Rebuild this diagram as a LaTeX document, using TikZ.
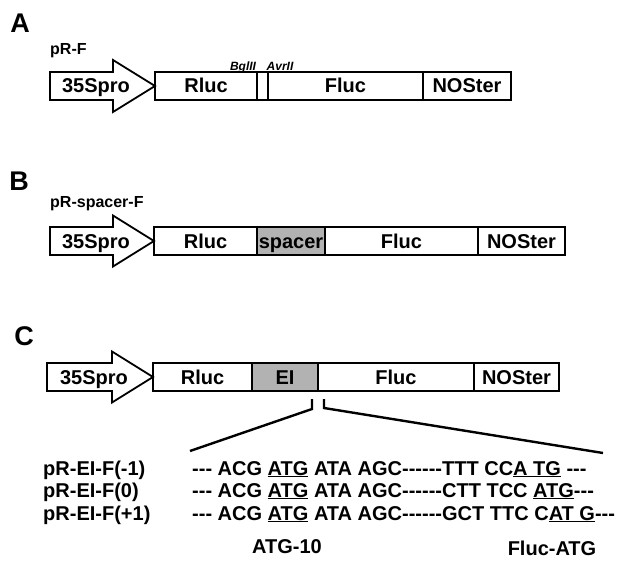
\documentclass[tikz,border=0pt]{standalone}
\usepackage{fontspec}
\setmainfont{Liberation Sans}
\newcommand\dsh{\mbox{-}}
\begin{document}
\begin{tikzpicture}[x=1pt,y=-1pt,
  seg/.style={draw, line width=1.8pt, minimum height=28pt, inner sep=0pt,
    text height=14pt, text depth=0pt,
    font=\fontsize{20}{20}\selectfont\bfseries},
  shade/.style={seg, fill=black!30},
  pro/.style={draw, line width=1.8pt, fill=white},
  protext/.style={font=\fontsize{20}{20}\selectfont\bfseries, inner sep=0pt,
    text height=14pt, text depth=0pt},
  panel/.style={font=\fontsize{27}{27}\selectfont\bfseries, inner sep=0pt,
    text height=19pt, text depth=0pt},
  title/.style={font=\fontsize{16}{16}\selectfont\bfseries, inner sep=0pt, anchor=west,
    text height=11.5pt, text depth=0pt},
  site/.style={font=\fontsize{12}{12}\selectfont\bfseries\itshape, inner sep=0pt,
    text height=8.6pt, text depth=0pt},
  rowlab/.style={font=\fontsize{20}{20}\selectfont\bfseries, inner sep=0pt, anchor=west,
    text height=14pt, text depth=0pt},
  seq/.style={font=\fontsize{20}{20}\selectfont\bfseries, inner sep=0pt, anchor=west,
    text height=14pt, text depth=0pt},
  bracket/.style={line width=2.4pt}]
\useasboundingbox (0,0) rectangle (618,564);
% ---------- A ----------
\node[panel] (lA) at (20,23) {A};
\node[title] (tA) at (50,49) {pR-F};
\draw[pro] (50,72) -- (113,72) -- (113,60) -- (155,86) -- (113,112) -- (113,100) -- (50,100) -- cycle;
\node[protext] (aPro) at (96,86) {35Spro};
\node[seg, minimum width=102pt] (aRluc) at (206,86) {Rluc};
\node[seg, minimum width=11pt] (aLink) at (262.5,86) {};
\node[seg, minimum width=155pt] (aFluc) at (345.5,86) {Fluc};
\node[seg, minimum width=88pt] (aNos) at (467,86) {NOSter};
\node[site] (bgl) at (243,66) {BglII};
\node[site] (avr) at (280,66) {AvrII};
% ---------- B ----------
\node[panel] (lB) at (19,181) {B};
\node[title] (tB) at (50,202) {pR-spacer-F};
\draw[pro] (50,227) -- (113,227) -- (113,215.5) -- (154,241) -- (113,266.5) -- (113,255) -- (50,255) -- cycle;
\node[protext] (bPro) at (96,241) {35Spro};
\node[seg, minimum width=103pt] (bRluc) at (205.5,241) {Rluc};
\node[shade, minimum width=68pt] (bSp) at (291,241) {spacer};
\node[seg, minimum width=153pt] (bFluc) at (401.5,241) {Fluc};
\node[seg, minimum width=87pt] (bNos) at (521.5,241) {NOSter};
% ---------- C ----------
\node[panel] (lC) at (24,336) {C};
\draw[pro] (47,363) -- (112,363) -- (112,351.5) -- (153,377) -- (112,402.5) -- (112,391) -- (47,391) -- cycle;
\node[protext] (cPro) at (94,377) {35Spro};
\node[seg, minimum width=99pt] (cRluc) at (202.5,377) {Rluc};
\node[shade, minimum width=66pt] (cEI) at (285,377) {EI};
\node[seg, minimum width=156pt] (cFluc) at (396,377) {Fluc};
\node[seg, minimum width=85pt] (cNos) at (516.5,377) {NOSter};
\coordinate (bl1) at (312,399);
\coordinate (bl2) at (312,409);
\coordinate (bl3) at (190,451);
\coordinate (br1) at (324,399);
\coordinate (br2) at (324,408);
\coordinate (br3) at (603,453);
\draw[bracket] (bl1) -- (bl2) -- (bl3);
\draw[bracket] (br1) -- (br2) -- (br3);
\node[rowlab] (r1) at (43,468) {pR-EI-F(-1)};
\node[rowlab] (r2) at (43,490) {pR-EI-F(0)};
\node[rowlab] (r3) at (43,513) {pR-EI-F(+1)};
\node[seq] (s1) at (192,468) {\dsh\dsh\dsh\ ACG \underline{ATG} ATA AGC\dsh\dsh\dsh\dsh\dsh\dsh TTT CC\underline{A TG} \dsh\dsh\dsh};
\node[seq] (s2) at (192,490) {\dsh\dsh\dsh\ ACG \underline{ATG} ATA AGC\dsh\dsh\dsh\dsh\dsh\dsh CTT TCC \underline{ATG}\dsh\dsh\dsh};
\node[seq] (s3) at (192,513) {\dsh\dsh\dsh\ ACG \underline{ATG} ATA AGC\dsh\dsh\dsh\dsh\dsh\dsh GCT TTC C\underline{AT G}\dsh\dsh\dsh};
\node[seq, anchor=center] (atg10) at (287,546) {ATG-10};
\node[seq, anchor=center] (flucatg) at (552,548) {Fluc-ATG};
\end{tikzpicture}
\end{document}
